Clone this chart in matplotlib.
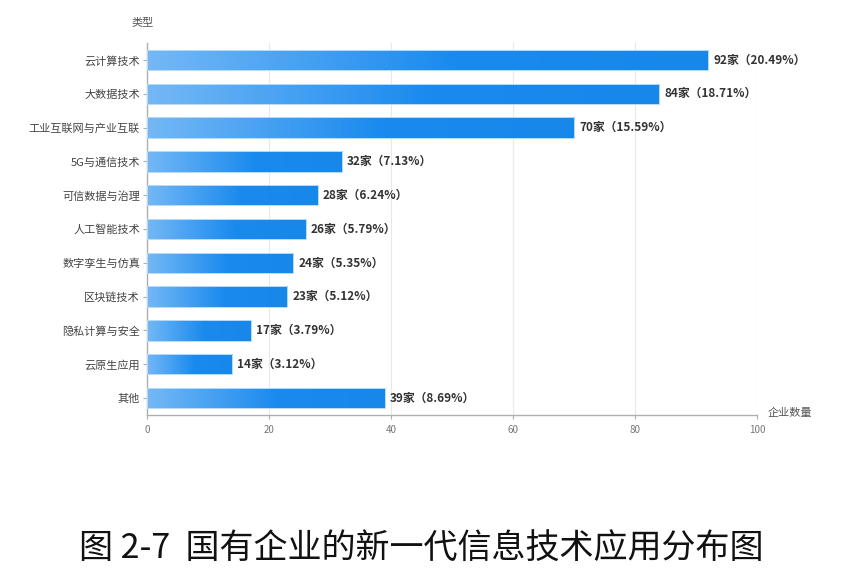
import numpy as np
import matplotlib
matplotlib.use("Agg")
import matplotlib.pyplot as plt
from matplotlib.colors import LinearSegmentedColormap

plt.rcParams['font.family'] = ['Noto Sans CJK SC', 'DejaVu Sans']

categories = ['云计算技术', '大数据技术', '工业互联网与产业互联', '5G与通信技术', '可信数据与治理',
              '人工智能技术', '数字孪生与仿真', '区块链技术', '隐私计算与安全', '云原生应用', '其他']
counts = [92, 84, 70, 32, 28, 26, 24, 23, 17, 14, 39]
shares = [20.49, 18.71, 15.59, 7.13, 6.24, 5.79, 5.35, 5.12, 3.79, 3.12, 8.69]
xticks = [0, 20, 40, 60, 80, 100]

fig = plt.figure(figsize=(8.42, 5.86), dpi=100)
ax = fig.add_axes([0.1746, 0.2918, 0.7245, 0.6348])

cmap = LinearSegmentedColormap.from_list('bar', [(0, '#74b8f6'), (0.55, '#1a8aee'), (1, '#1787ea')])
grad = np.tile(np.linspace(0, 1, 256), (4, 1))
h = 0.6
for i, v in enumerate(counts):
    bar = ax.barh(i, v, height=h, color='none', edgecolor='#b5dcfc', linewidth=0.7, zorder=3)
    # gradient image a bit larger than the bar, clipped to the bar shape
    im = ax.imshow(grad, cmap=cmap, aspect='auto', extent=(0, v, i + 0.45, i - 0.45),
                   interpolation='bilinear', zorder=2)
    im.set_clip_path(bar[0])
    ax.text(v + 0.8, i, f'{v}家（{shares[i]:.2f}%）', va='center', ha='left',
            fontsize=8.5, fontweight='bold', color='#333333')

ax.set_xlim(0, 100)
ax.set_ylim(len(counts) - 0.5, -0.5)
ax.set_yticks(range(len(categories)))
ax.set_yticklabels(categories, fontsize=8, color='#444444')
ax.set_xticks(xticks)
ax.set_xticklabels([str(t) for t in xticks], fontsize=7, color='#777777')
ax.grid(axis='x', color='#e8e8e8', linewidth=0.8, zorder=0)
ax.set_axisbelow(True)

for s in ['top', 'right']:
    ax.spines[s].set_visible(False)
for s in ['left', 'bottom']:
    ax.spines[s].set_color('#b0b0b0')
    ax.spines[s].set_linewidth(1.0)
ax.tick_params(axis='y', length=3, color='#b0b0b0', pad=2)
ax.tick_params(axis='x', length=3, color='#b0b0b0', pad=4)

fig.text(143 / 842, 1 - 22 / 586, '类型', fontsize=8, color='#555555', ha='center', va='center')
fig.text(790 / 842, 1 - 413 / 586, '企业数量', fontsize=8, color='#555555', ha='center', va='center')
fig.text(0.5, 1 - 548 / 586, '图 2-7  国有企业的新一代信息技术应用分布图', fontsize=24.5,
         color='#111111', ha='center', va='center')

fig.savefig('out.png', dpi=100, facecolor='white')
